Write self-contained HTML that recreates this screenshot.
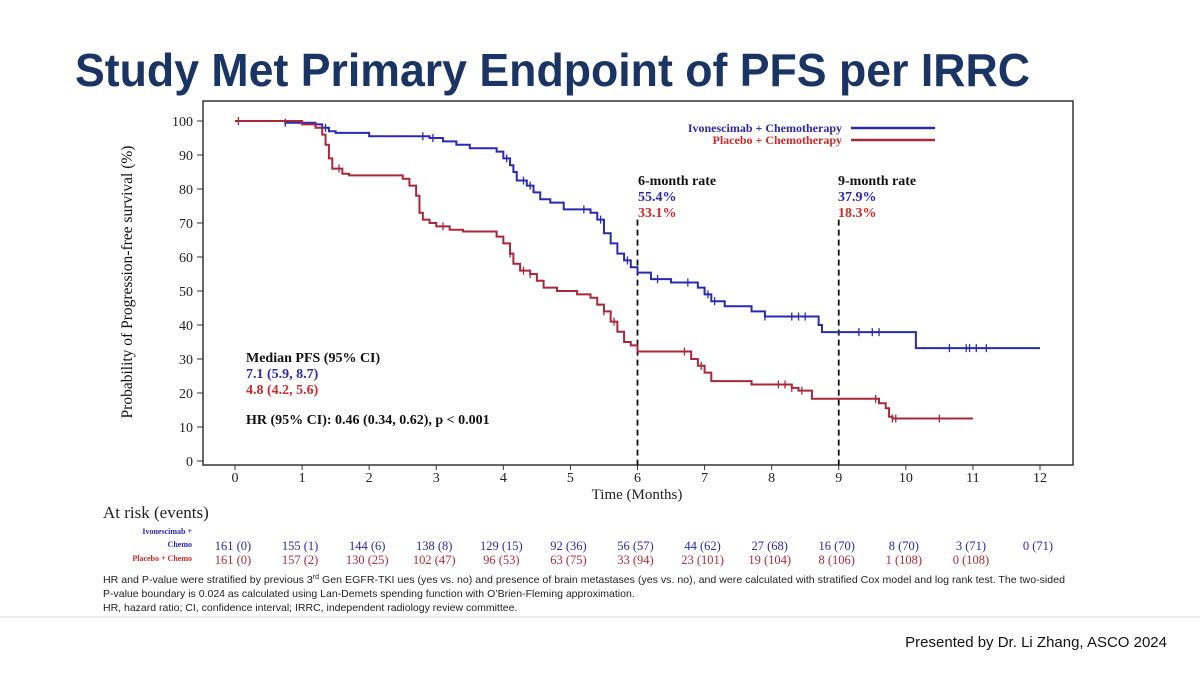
<!DOCTYPE html>
<html><head><meta charset="utf-8"><style>
body{margin:0;background:#fff;width:1200px;height:675px;overflow:hidden}
svg{display:block}
.serif{font-family:"Liberation Serif",serif}
.sans{font-family:"Liberation Sans",sans-serif}
</style></head><body>
<svg id="chart" width="1200" height="675" viewBox="0 0 1200 675">
<text x="75" y="86" class="sans" font-size="46" font-weight="bold" fill="#1a3564" textLength="955" lengthAdjust="spacingAndGlyphs">Study Met Primary Endpoint of PFS per IRRC</text>
<rect x="203" y="101" width="870" height="364" fill="none" stroke="#333" stroke-width="1.5"/>
<g id="axes"></g>
<g id="series"></g>
<text transform="translate(132,282) rotate(-90)" text-anchor="middle" class="serif" font-size="15.5" fill="#111">Probability of Progression-free survival (%)</text>
<text x="637" y="499" text-anchor="middle" class="serif" font-size="15" fill="#222">Time (Months)</text>
<g>
<text x="842" y="132" text-anchor="end" class="serif" font-size="12" font-weight="bold" fill="#2a2aa8">Ivonescimab + Chemotherapy</text>
<line x1="851" y1="128" x2="935" y2="128" stroke="#2a2aa8" stroke-width="2.5"/>
<text x="842" y="144" text-anchor="end" class="serif" font-size="12" font-weight="bold" fill="#cc2a2a">Placebo + Chemotherapy</text>
<line x1="851" y1="140" x2="935" y2="140" stroke="#a52a3a" stroke-width="2.5"/>
</g>
<g class="serif" font-size="14" font-weight="bold">
<text x="638" y="185" fill="#111">6-month rate</text>
<text x="638" y="201" fill="#2a2aa8">55.4%</text>
<text x="638" y="217" fill="#cc2a2a">33.1%</text>
<text x="838" y="185" fill="#111">9-month rate</text>
<text x="838" y="201" fill="#2a2aa8">37.9%</text>
<text x="838" y="217" fill="#cc2a2a">18.3%</text>
</g>
<g class="serif" font-size="14" font-weight="bold">
<text x="246" y="362" fill="#111">Median PFS (95% CI)</text>
<text x="246" y="378" fill="#2a2aa8">7.1 (5.9, 8.7)</text>
<text x="246" y="394" fill="#cc2a2a">4.8 (4.2, 5.6)</text>
<text x="246" y="424" fill="#111">HR (95% CI): 0.46 (0.34, 0.62), p &lt; 0.001</text>
</g>
<text x="103" y="518" class="serif" font-size="17" fill="#222">At risk (events)</text>
<text x="192" y="534" text-anchor="end" class="serif" font-size="8" font-weight="bold" fill="#2a2aa8">Ivonescimab +</text>
<text x="192" y="547" text-anchor="end" class="serif" font-size="8" font-weight="bold" fill="#2a2aa8">Chemo</text>
<text x="192" y="561" text-anchor="end" class="serif" font-size="8" font-weight="bold" fill="#cc2a2a">Placebo + Chemo</text>
<g id="risk"></g>
<g class="sans" font-size="10.5" fill="#222">
<text x="103" y="583" textLength="962" lengthAdjust="spacingAndGlyphs">HR and P-value were stratified by previous 3<tspan font-size="7" dy="-4">rd</tspan><tspan dy="4"> Gen EGFR-TKI ues (yes vs. no) and presence of brain metastases (yes vs. no), and were calculated with stratified Cox model and log rank test. The two-sided</tspan></text>
<text x="103" y="597">P-value boundary is 0.024 as calculated using Lan-Demets spending function with O’Brien-Fleming approximation.</text>
<text x="103" y="611">HR, hazard ratio; CI, confidence interval; IRRC, independent radiology review committee.</text>
</g>
<line x1="0" y1="617" x2="1200" y2="617" stroke="#e4e4e4" stroke-width="1.5"/>
<text x="1167" y="647" text-anchor="end" class="sans" font-size="15" fill="#111">Presented by Dr. Li Zhang, ASCO 2024</text>
</svg>
<script>
const xTicks=[0,1,2,3,4,5,6,7,8,9,10,11,12];
const yTicks=[0,10,20,30,40,50,60,70,80,90,100];
const ivoTimes=[0,0.75,1.2,1.3,1.4,1.5,2,2.9,3.1,3.3,3.5,3.9,4.0,4.1,4.15,4.2,4.35,4.45,4.55,4.7,4.9,5.3,5.4,5.5,5.6,5.7,5.8,5.9,6.0,6.2,6.5,6.9,7.0,7.1,7.3,7.7,7.9,8.7,8.75,10.15,12];
const ivoSurv=[100,99.5,99,98,97,96.5,95.5,95,94,93,92,91,89,87,85,82.5,81,79,77,76,74,73,71,67,64,61,59,57,55.4,53.5,52.5,51,49,47,45.5,44,42.5,40,37.9,33.2,33.2];
const pboTimes=[0,1.0,1.2,1.3,1.35,1.4,1.45,1.6,1.7,2.5,2.6,2.7,2.75,2.8,2.9,3.0,3.2,3.4,3.9,4.0,4.1,4.15,4.25,4.4,4.5,4.6,4.8,5.1,5.3,5.4,5.5,5.6,5.7,5.8,5.9,6.0,6.8,6.9,7.0,7.1,7.7,8.3,8.4,8.6,9.6,9.7,9.75,9.8,11];
const pboSurv=[100,99,98,96,93,89,86,84.5,84,83,81,78,73,71,70,69,68,67.5,66,64,61,58,56,55,53,51,50,49,48,46,44,41,38,35,34,32.2,30,28,26,23.5,22.5,21.5,20.7,18.3,17,15.5,13,12.5,12.5];
const ivoCensor=[0.75,1.35,2.8,2.95,4.05,4.3,4.4,5.2,5.45,5.85,6.3,6.75,7.05,7.15,7.9,8.3,8.4,8.5,9.3,9.5,9.6,10.65,10.9,10.95,11.05,11.2];
const pboCensor=[0.05,1.55,3.1,4.1,4.3,4.4,5.5,5.65,6.7,6.95,8.1,8.2,8.3,8.45,9.55,9.8,9.85,10.5];
const riskIvo=["161 (0)","155 (1)","144 (6)","138 (8)","129 (15)","92 (36)","56 (57)","44 (62)","27 (68)","16 (70)","8 (70)","3 (71)","0 (71)"];
const riskPbo=["161 (0)","157 (2)","130 (25)","102 (47)","96 (53)","63 (75)","33 (94)","23 (101)","19 (104)","8 (106)","1 (108)","0 (108)"];
const X=t=>235+t*(1040-235)/12;
const Y=v=>461-v*3.4;
const NS="http://www.w3.org/2000/svg";
function mk(tag,attrs,parent){const e=document.createElementNS(NS,tag);for(const k in attrs)e.setAttribute(k,attrs[k]);parent.appendChild(e);return e;}
const axes=document.getElementById('axes');
xTicks.forEach(t=>{
  const l=mk('line',{x1:X(t),x2:X(t),y1:465,y2:470,stroke:'#333'},axes);
  
  
  const tx=mk('text',{x:X(t),y:482,'text-anchor':'middle','font-size':14,'font-family':'Liberation Serif, serif',fill:'#222'},axes);
  tx.textContent=t;
  
  
});
yTicks.forEach(v=>{
  const l=mk('line',{x1:197,x2:203,y1:Y(v),y2:Y(v),stroke:'#333'},axes);
  
  
  const tx=mk('text',{x:193,y:Y(v)+5,'text-anchor':'end','font-size':14,'font-family':'Liberation Serif, serif',fill:'#222'},axes);
  tx.textContent=v;
  
  
});
[6,9].forEach(t=>{
  const l=mk('line',{x1:X(t),x2:X(t),y1:Y(71),y2:465,stroke:'#111','stroke-width':1.8,'stroke-dasharray':'6,4'},axes);
  
  
});
const series=document.getElementById('series');
function survAt(ts,ss,t){let s=ss[0];for(let i=0;i<ts.length;i++){if(ts[i]<=t)s=ss[i];}return s;}
function drawSeries(ts,ss,cens,color,name){
  let d='M'+X(ts[0])+','+Y(ss[0]);
  for(let i=1;i<ts.length;i++){d+=' H'+X(ts[i])+' V'+Y(ss[i]);}
  const p=mk('path',{d:d,fill:'none',stroke:color,'stroke-width':2},series);
  
  
  cens.forEach(t=>{
    const y=Y(survAt(ts,ss,t));
    const c=mk('line',{x1:X(t),x2:X(t),y1:y-4,y2:y+4,stroke:color,'stroke-width':1.3},series);
    
    
  });
}
drawSeries(ivoTimes,ivoSurv,ivoCensor,'#2a2ab0','ivonescimab');
drawSeries(pboTimes,pboSurv,pboCensor,'#a8283a','placebo');
const risk=document.getElementById('risk');
function rowText(arr,y,color,name){
  arr.forEach((s,i)=>{
    const tx=mk('text',{x:X(i)-2,y:y,'text-anchor':'middle','font-size':12.5,'font-family':'Liberation Serif, serif',fill:color},risk);
    tx.textContent=s;
    
    
  });
}
rowText(riskIvo,550,'#2a2aa8','at-risk-ivo-value');
rowText(riskPbo,564,'#b02a3a','at-risk-placebo-value');
</script>
</body></html>
